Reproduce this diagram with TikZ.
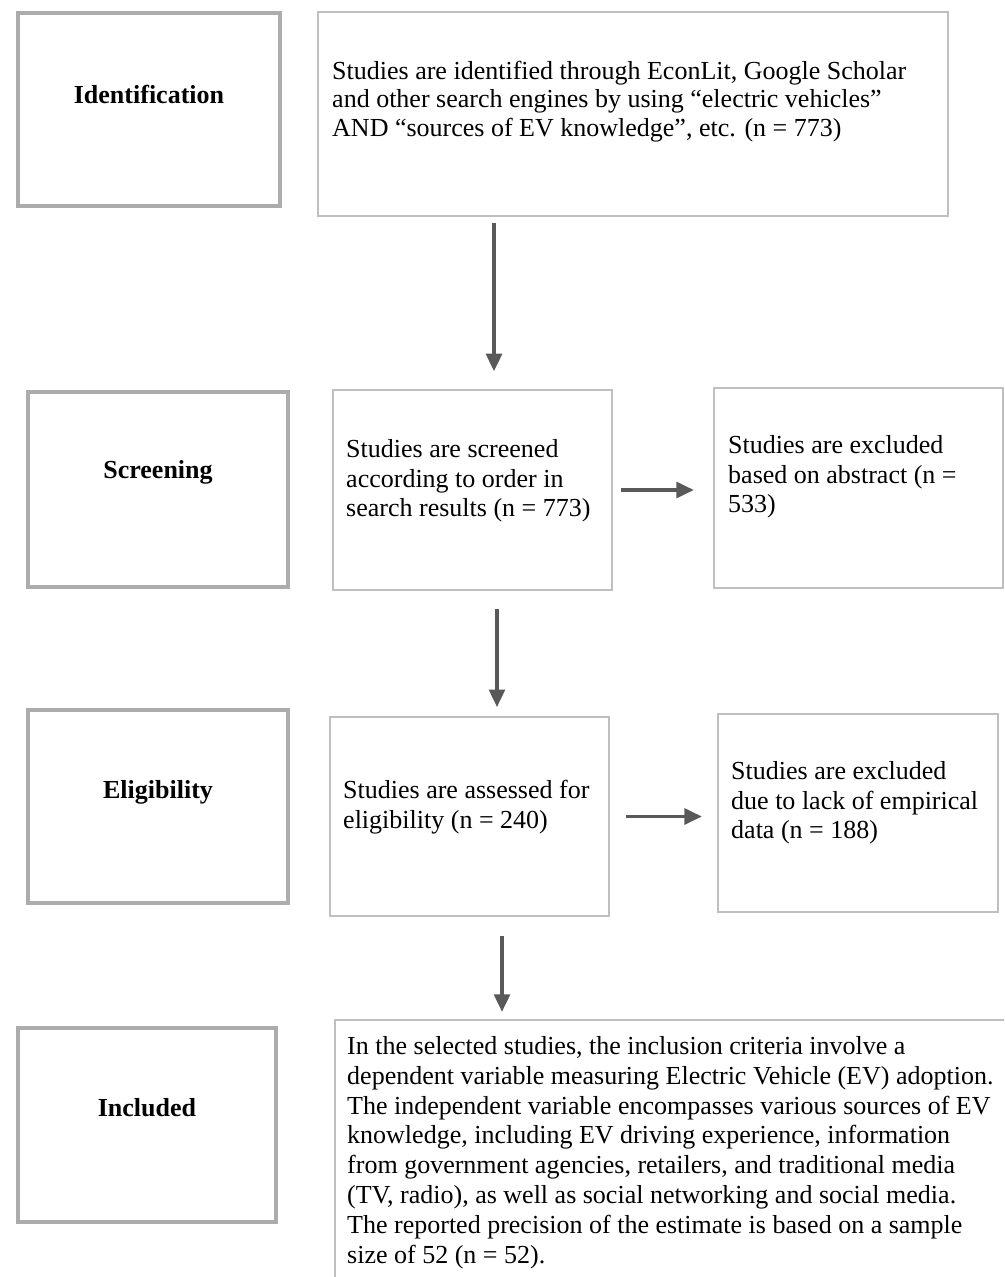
\documentclass[tikz,border=0pt]{standalone}
\usepackage{fontspec}
\setmainfont{Liberation Serif}
\usetikzlibrary{arrows.meta,fit}

\begin{document}
\begin{tikzpicture}[x=0.02cm, y=-0.02cm, >={Triangle[length=10pt,width=9pt]},
  font=\fontsize{14.8}{17}\selectfont,
  stage/.style={draw=gray!65, line width=2.2pt, inner sep=0pt},
  box/.style={draw=gray!50, line width=1.3pt, inner sep=0pt},
  txt/.style={anchor=north west, align=left, inner sep=0pt},
  lbl/.style={font=\fontsize{14.8}{17}\selectfont\bfseries},
  flow/.style={->, draw=black!65, line width=2pt}]
  \useasboundingbox (0,0) rectangle (1004,1277);
  \clip (0,0) rectangle (1004,1277);
  % === Stupne vlevo ===
  \node[stage, fit={(18,13) (280,206)}] (ident) {};
  \node[stage, fit={(28,392) (288,587)}] (screen) {};
  \node[stage, fit={(28,710) (288,903)}] (elig) {};
  \node[stage, fit={(18,1028) (276,1222)}] (incl) {};
  \node[lbl] (identlbl) at ([shift={(0,-15)}]ident.center) {Identification};
  \node[lbl] (screenlbl) at ([shift={(0,-17)}]screen.center) {Screening};
  \node[lbl] (eliglbl) at ([shift={(0,-14)}]elig.center) {Eligibility};
  \node[lbl] (incllbl) at ([shift={(0,-17)}]incl.center) {Included};
  % === Boxy s textem ===
  \node[box, fit={(318,12) (948,216)}] (found) {};
  \node[box, fit={(333,390) (612,590)}] (screened) {};
  \node[box, fit={(714,388) (1003,588)}] (excl1) {};
  \node[box, fit={(330,717) (609,916)}] (assessed) {};
  \node[box, fit={(718,714) (998,912)}] (excl2) {};
  \node[box, fit={(335,1020) (1012,1290)}] (final) {};
  \node[txt, font=\fontsize{14.8}{16.2}\selectfont] (foundtxt) at ([shift={(15,50)}]found.north west)
    {Studies are identified through EconLit, Google Scholar\\
     and other search engines by using ``electric vehicles''\\
     AND ``sources of EV knowledge'', etc. (n = 773)};
  \node[txt] (screenedtxt) at ([shift={(14,50)}]screened.north west)
    {Studies are screened\\ according to order in\\ search results (n = 773)};
  \node[txt] (excl1txt) at ([shift={(15,48)}]excl1.north west)
    {Studies are excluded\\ based on abstract (n =\\ 533)};
  \node[txt] (assessedtxt) at ([shift={(14,64)}]assessed.north west)
    {Studies are assessed for\\ eligibility (n = 240)};
  \node[txt] (excl2txt) at ([shift={(14,48)}]excl2.north west)
    {Studies are excluded\\ due to lack of empirical\\ data (n = 188)};
  \node[txt] (finaltxt) at ([shift={(13,17)}]final.north west)
    {In the selected studies, the inclusion criteria involve a\\
     dependent variable measuring Electric Vehicle (EV) adoption.\\
     The independent variable encompasses various sources of EV\\
     knowledge, including EV driving experience, information\\
     from government agencies, retailers, and traditional media\\
     (TV, radio), as well as social networking and social media.\\
     The reported precision of the estimate is based on a sample\\
     size of 52 (n = 52).};
  % === Sipky ===
  \coordinate (c1) at (494,0);
  \coordinate (c2) at (497,0);
  \coordinate (c3) at (502,0);
  \draw[flow, shorten <=3.4pt, shorten >=10pt] (found.south -| c1) -- (screened.north -| c1);
  \draw[flow, shorten <=10pt, shorten >=5pt] (screened.south -| c2) -- (assessed.north -| c2);
  \draw[flow, shorten <=10.8pt, shorten >=4pt] (assessed.south -| c3) -- (final.north -| c3);
  \draw[flow, shorten <=4.5pt, shorten >=10.8pt] (screened.east) -- (screened.east -| excl1.west);
  \draw[flow, shorten <=9pt, shorten >=8.5pt] (assessed.east) -- (assessed.east -| excl2.west);
\end{tikzpicture}
\end{document}
